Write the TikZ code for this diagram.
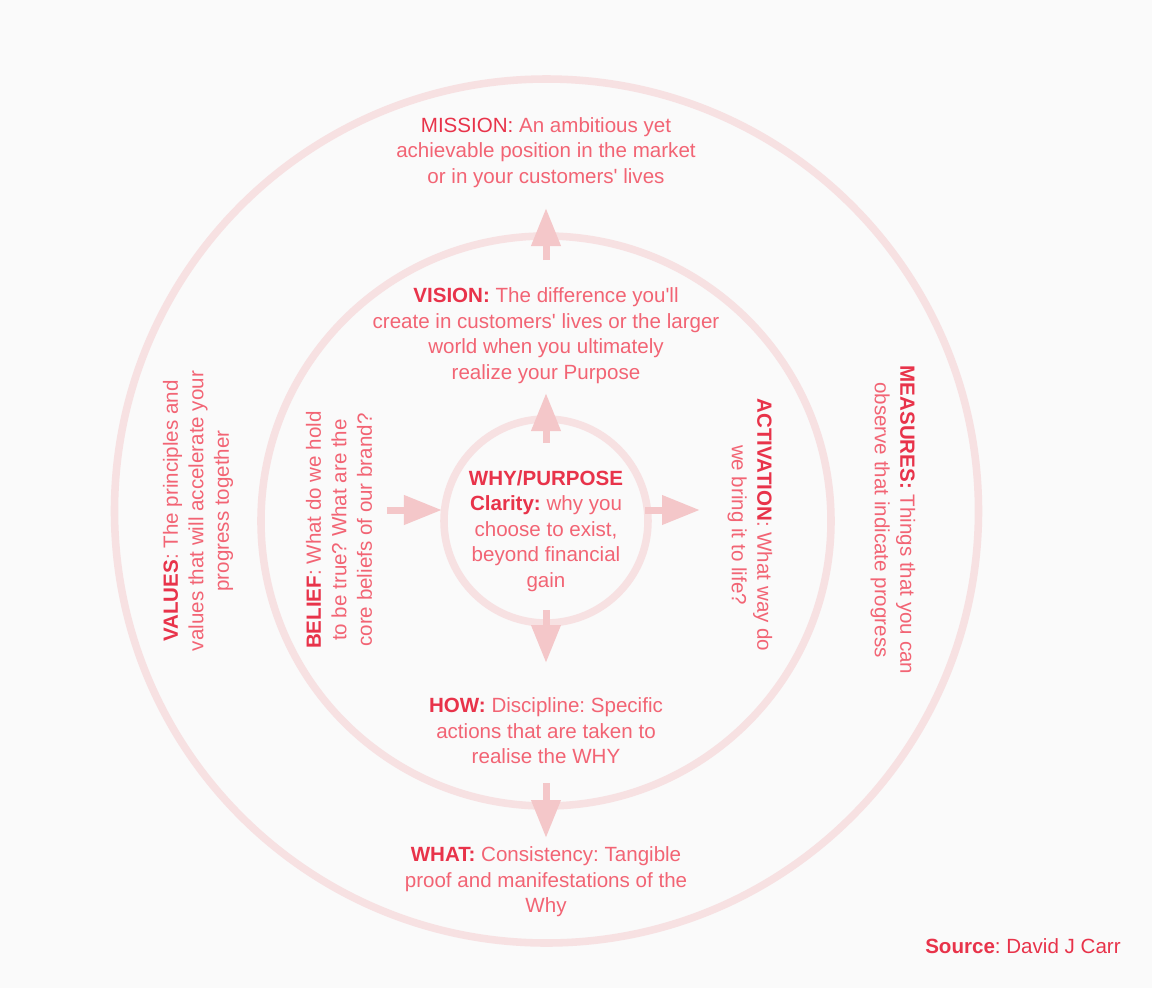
\documentclass[tikz,border=0pt]{standalone}
\usepackage{fontspec}
\setmainfont{Liberation Sans}[Ligatures=TeXOff]
\usepackage{xcolor}
\definecolor{prred}{RGB}{232,51,74}
\definecolor{prpink}{RGB}{242,100,116}
\definecolor{prring}{RGB}{247,225,226}
\definecolor{prarrow}{RGB}{244,199,201}
\definecolor{prbg}{RGB}{250,250,250}
\newcommand{\keyw}[1]{\textcolor{prred}{\textbf{#1}}}
\frenchspacing
\usepackage{tikz}
\usetikzlibrary{arrows.meta,positioning}

\begin{document}
\begin{tikzpicture}[
    ring/.style={draw=prring, line width=4.3pt},
    txt/.style={align=center, text=prpink, inner sep=0pt,
      font=\fontsize{11.7}{14.5}\selectfont},
    arr/.style={-{Triangle[length=0.76cm, width=0.56cm]}, line width=0.14cm, prarrow}
  ]
    % Background
    \fill[prbg] (-10.92,-9.34) rectangle (12.12,10.42);
    % Rings
    \draw[ring] (0,0) circle (2.04);
    \draw[ring] (0,0) circle (5.70);
    \draw[ring] (0.01,0.20) circle (8.64);
    % Arrow ends
    \coordinate (mt0) at (0,5.22);   \coordinate (mt1) at (0,6.26);
    \coordinate (it0) at (0,1.56);   \coordinate (it1) at (0,2.56);
    \coordinate (ib0) at (0,-1.78);  \coordinate (ib1) at (0,-2.84);
    \coordinate (mb0) at (0,-5.24);  \coordinate (mb1) at (0,-6.34);
    \coordinate (il0) at (-3.18,0.22); \coordinate (il1) at (-2.08,0.22);
    \coordinate (ir0) at (1.98,0.22);  \coordinate (ir1) at (3.08,0.22);
    % Arrows
    \draw[arr] (mt0) -- (mt1);
    \draw[arr] (it0) -- (it1);
    \draw[arr] (ib0) -- (ib1);
    \draw[arr] (mb0) -- (mb1);
    \draw[arr] (il0) -- (il1);
    \draw[arr] (ir0) -- (ir1);
    % Centre
    \node[txt] (why) at (0,-0.20)
      {\keyw{WHY/PURPOSE}\\\keyw{Clarity:} why you\\choose to exist,\\beyond financial\\gain};
    % Top
    \node[txt] (mission) at (0,7.37)
      {\textcolor{prred}{MISSION:} An ambitious yet\\achievable position in the market\\or in your customers' lives};
    \node[txt] (vision) at (0,3.71)
      {\keyw{VISION:} The difference you'll\\create in customers' lives or the larger\\world when you ultimately\\realize your Purpose};
    % Bottom
    \node[txt] (how) at (0,-4.20)
      {\keyw{HOW:} Discipline: Specific\\actions that are taken to\\realise the WHY};
    \node[txt] (what) at (0,-7.22)
      {\keyw{WHAT:} Consistency: Tangible\\proof and manifestations of the\\Why};
    % Left
    \node[txt, rotate=90] (values) at (-6.96,0.20)
      {\keyw{VALUES}: The principles and\\values that will accelerate your\\progress together};
    \node[txt, rotate=90] (belief) at (-4.14,-0.18)
      {\keyw{BELIEF}: What do we hold\\to be true? What are the\\core beliefs of our brand?};
    % Right
    \node[txt, rotate=-90] (activation) at (4.08,-0.08)
      {\keyw{ACTIVATION}: What way do\\we bring it to life?};
    \node[txt, rotate=-90] (measures) at (6.94,0.02)
      {\keyw{MEASURES:} Things that you can\\observe that indicate progress};
    % Source
    \node[txt, text=prred, anchor=east] (source) at (11.50,-8.50)
      {\textbf{Source}: David J Carr};
  \end{tikzpicture}
\end{document}
